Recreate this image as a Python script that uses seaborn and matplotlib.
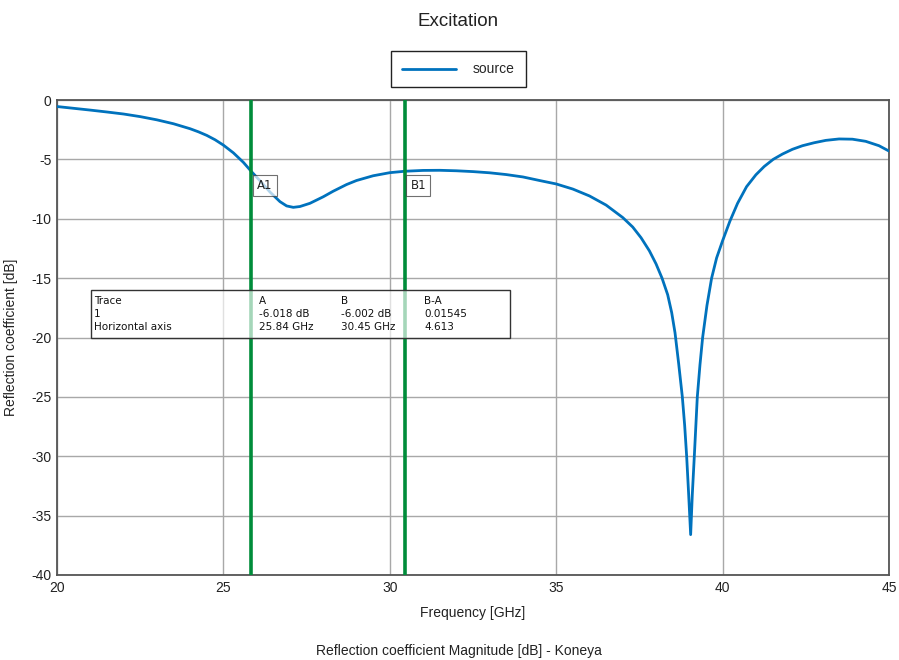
import numpy as np
import pandas as pd
import seaborn as sns
import matplotlib.pyplot as plt
from matplotlib.patches import Rectangle

sns.set_theme(style="white")
plt.rcParams['font.family'] = ['Liberation Sans', 'DejaVu Sans']
plt.rcParams['axes.unicode_minus'] = False

# reflection coefficient
freq = [20.0, 20.5, 21.0, 21.5, 22.0, 22.5, 23.0, 23.5, 24.0, 24.25, 24.5, 24.75,
        25.0, 25.3, 25.6, 25.84, 26.1, 26.4, 26.7, 26.9, 27.1, 27.3, 27.6,
        28.0, 28.3, 28.7, 29.0, 29.5, 30.0, 30.45, 31.0, 31.5, 32.0, 32.5,
        33.0, 33.5, 34.0, 34.5, 35.0, 35.5, 36.0, 36.5, 37.0, 37.3, 37.55,
        37.8, 38.0, 38.18, 38.35, 38.47, 38.57, 38.68, 38.79, 38.86, 38.92, 38.98,
        39.04, 39.09, 39.15, 39.24, 39.32, 39.40, 39.53, 39.67, 39.82, 40.0,
        40.22, 40.45, 40.72, 41.0, 41.25, 41.52, 41.8, 42.1, 42.4, 42.75,
        43.1, 43.5, 43.9, 44.3, 44.7, 45.0]
s11 = [-0.55, -0.70, -0.85, -1.01, -1.18, -1.40, -1.67, -2.00, -2.42, -2.68, -2.98, -3.35,
       -3.80, -4.45, -5.25, -6.02, -6.80, -7.75, -8.56, -8.92, -9.04, -8.97, -8.70,
       -8.15, -7.68, -7.12, -6.78, -6.38, -6.12, -6.00, -5.93, -5.92, -5.96, -6.03,
       -6.13, -6.28, -6.48, -6.78, -7.07, -7.50, -8.08, -8.85, -9.90, -10.70, -11.6,
       -12.7, -13.8, -15.0, -16.4, -17.9, -19.6, -22.2, -25.0, -27.4, -30.0, -33.2,
       -36.6, -33.2, -30.0, -25.0, -22.3, -20.0, -17.3, -15.0, -13.3, -11.85,
       -10.2, -8.7, -7.3, -6.3, -5.6, -5.0, -4.55, -4.15, -3.85, -3.60,
       -3.40, -3.28, -3.30, -3.48, -3.85, -4.30]

marker_names = ['A1', 'B1']
marker_freq = [25.84, 30.45]

table_cols = ['Trace', 'A', 'B', 'B-A']
table_rows = [['1', '-6.018 dB', '-6.002 dB', '0.01545'],
              ['Horizontal axis', '25.84 GHz', '30.45 GHz', '4.613']]

df = pd.DataFrame({'Frequency': freq, 'S11': s11})

fig = plt.figure(figsize=(8.99, 6.6), dpi=100)
ax = fig.add_axes([57/899, 1 - 575/660, (889 - 57)/899, 475/660])

sns.lineplot(data=df, x='Frequency', y='S11', color='#0072BD', linewidth=2,
             ax=ax, label='source', zorder=3, sort=False)

ax.set_xlim(20, 45)
ax.set_ylim(-40, 0)
ax.set_xticks(np.arange(20, 46, 5))
ax.set_yticks(np.arange(-40, 1, 5))
ax.grid(True, color='#a8a8a8', linewidth=1)
ax.tick_params(length=0, labelsize=10, colors='#222222', pad=4)
for s in ax.spines.values():
    s.set_color('#555555')
    s.set_linewidth(1.3)
ax.set_xlabel('Frequency [GHz]', fontsize=10, labelpad=8, color='#222222')
ax.set_ylabel('Reflection coefficient [dB]', fontsize=10, color='#222222')
ax.yaxis.set_label_coords(-(57 - 18) / 832, 0.5)

# markers
for name, f in zip(marker_names, marker_freq):
    ax.axvline(f, color='#008C3A', linewidth=2.6, zorder=4)
    ax.text(f + 0.17, -7.2, name, fontsize=8.5, family='DejaVu Sans', va='center',
            ha='left', zorder=6, color='#222222',
            bbox=dict(boxstyle='square,pad=0.35', fc='white', alpha=0.7, ec='#333333', lw=0.8))

# marker table
ax.add_patch(Rectangle((21.02, -20.04), 33.61 - 21.02, 4.04, facecolor='white',
                       alpha=0.65, edgecolor='none', zorder=5))
ax.add_patch(Rectangle((21.02, -20.04), 33.61 - 21.02, 4.04, facecolor='none',
                       edgecolor='#333333', linewidth=1, zorder=6))
col_x = [21.11, 26.07, 28.53, 31.03]
row_y = [-16.93, -18.02, -19.12]
for cx, head in zip(col_x, table_cols):
    ax.text(cx, row_y[0], head, fontsize=7.5, family='DejaVu Sans', va='center', zorder=7, color='#111111')
for ry, row in zip(row_y[1:], table_rows):
    for cx, val in zip(col_x, row):
        ax.text(cx, ry, val, fontsize=7.5, family='DejaVu Sans', va='center', zorder=7, color='#111111')

ax.get_legend().remove()
handles, labels = ax.get_legend_handles_labels()
fig.legend(handles, labels, loc='center', bbox_to_anchor=(458.5/899, 1 - 69/660),
           fontsize=10, frameon=True, fancybox=False, edgecolor='#222222',
           handlelength=3.9, handletextpad=1.2, borderpad=0.8, handleheight=0.4,
           framealpha=1)

fig.text(458.5/899, 1 - 22/660, 'Excitation', fontsize=13.5, ha='center', va='center', color='#222222')
fig.text(458.5/899, 1 - 651/660, 'Reflection coefficient Magnitude [dB] - Koneya', fontsize=10,
         ha='center', va='center', color='#222222')

fig.savefig('out.png', dpi=100)
